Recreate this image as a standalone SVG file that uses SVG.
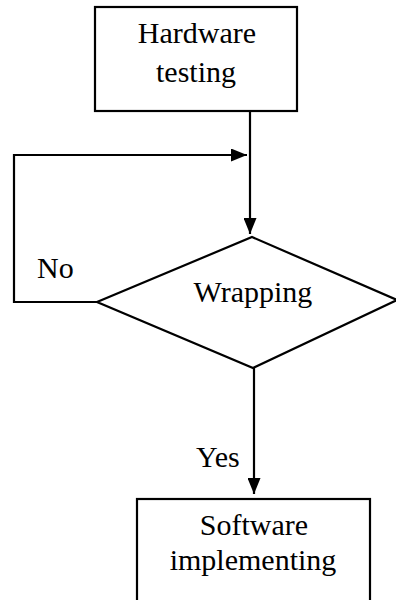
<svg xmlns="http://www.w3.org/2000/svg" width="396" height="600" viewBox="0 0 396 600">
  <style>
    .box { fill: #ffffff; stroke: #000000; stroke-width: 2.2; }
    .line { fill: none; stroke: #000000; stroke-width: 2.2; }
    .label { font-family: "Liberation Serif", "Times New Roman", serif; font-size: 30px; fill: #000000; }
    .mid { text-anchor: middle; }
  </style>
  <defs>
    <marker id="arrow" viewBox="0 0 16 13" refX="16" refY="6.5" markerWidth="16" markerHeight="13" markerUnits="userSpaceOnUse" orient="auto">
      <path d="M0,0 L16,6.5 L0,13 Z" fill="#000000"/>
    </marker>
  </defs>
  <rect width="396" height="600" fill="#ffffff"/>

  <g id="connectors">
    <!-- Hardware testing down to decision -->
    <path class="line" d="M250,111 L250,234" marker-end="url(#arrow)"/>
    <!-- "No" loop back above the decision -->
    <path class="line" d="M97,302 L14,302 L14,155 L247,155" marker-end="url(#arrow)"/>
    <!-- "Yes" down to software implementing -->
    <path class="line" stroke-width="2.6" d="M254,368 L254,494" marker-end="url(#arrow)"/>
    <text class="label" x="37" y="278">No</text>
    <text class="label" x="196" y="467">Yes</text>
  </g>

  <g id="hardware-testing">
    <rect class="box" x="95" y="7" width="202" height="104"/>
    <text class="label mid" x="197" y="43">Hardware</text>
    <text class="label mid" x="196" y="82">testing</text>
  </g>

  <g id="wrapping">
    <polygon class="box" points="252,237 397,300 253,368 97,302"/>
    <text class="label mid" x="253" y="302">Wrapping</text>
  </g>

  <g id="software-implementing">
    <rect class="box" x="137" y="499" width="233" height="110"/>
    <text class="label mid" x="254" y="535">Software</text>
    <text class="label mid" x="253" y="570">implementing</text>
  </g>
</svg>
